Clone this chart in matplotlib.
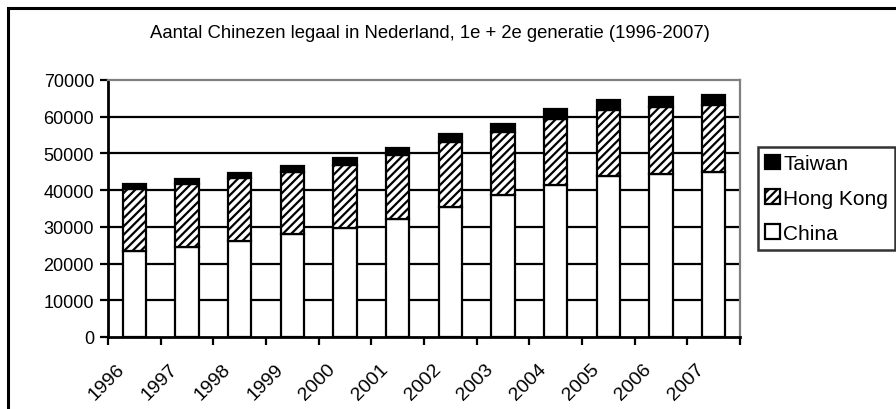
import numpy as np
import matplotlib.pyplot as plt
from matplotlib.patches import Rectangle
from matplotlib.transforms import ScaledTranslation

plt.rcParams['font.family'] = ['Liberation Sans', 'DejaVu Sans']
plt.rcParams['hatch.linewidth'] = 1.6

jaren = ['1996', '1997', '1998', '1999', '2000', '2001',
         '2002', '2003', '2004', '2005', '2006', '2007']
china = [23300, 24500, 26200, 28000, 29600, 32100, 35400, 38600, 41500, 43800, 44500, 45000]
hongkong = [16900, 17100, 17000, 17000, 17300, 17400, 17700, 17200, 17900, 18000, 18100, 18100]
taiwan = [1400, 1500, 1550, 1700, 1900, 1900, 2100, 2300, 2600, 2700, 2700, 2800]

fig = plt.figure(figsize=(8.96, 4.10), dpi=100)
ax = fig.add_axes([108/896, 1-338/410, (740-108)/896, (338-81)/410])

x = np.arange(len(jaren))
b = 0.44
ch = ax.bar(x, china, b, color='white', edgecolor='black', linewidth=1.6, zorder=3)
hk = ax.bar(x, hongkong, b, bottom=china, color='white', edgecolor='black',
            hatch='////', linewidth=1.6, zorder=3)
bot2 = np.array(china) + np.array(hongkong)
tw = ax.bar(x, taiwan, b, bottom=bot2, color='black', edgecolor='black', linewidth=1.6, zorder=3)

ax.set_xlim(-0.5, len(jaren) - 0.5)
ax.set_ylim(0, 70000)
ax.set_yticks(range(0, 70001, 10000))
for y in range(10000, 70000, 10000):
    ax.axhline(y, color='black', linewidth=1.6, zorder=1)

# ticks tussen de categorieen
ax.set_xticks(np.arange(-0.5, len(jaren)), minor=False)
ax.set_xticklabels([])
ax.set_xticks(x, minor=True)
ax.set_xticklabels(jaren, minor=True, rotation=45, ha='right', va='center',
                   rotation_mode='anchor', fontsize=14)
ax.tick_params(axis='x', which='minor', length=0, pad=21)
ax.tick_params(axis='x', which='major', length=6, width=1.6, direction='out')
ax.tick_params(axis='y', length=6, width=1.6, labelsize=13, pad=4)
off = ScaledTranslation(-12/100, 0, fig.dpi_scale_trans)
for lab in ax.get_xticklabels(minor=True):
    lab.set_transform(lab.get_transform() + off)

for s in ['left', 'bottom']:
    ax.spines[s].set_linewidth(2)
    ax.spines[s].set_color('black')
for s in ['top', 'right']:
    ax.spines[s].set_linewidth(1.6)
    ax.spines[s].set_color('#808080')

fig.text(0.48, 1-34/410, 'Aantal Chinezen legaal in Nederland, 1e + 2e generatie (1996-2007)',
         ha='center', va='center', fontsize=13.3)

leg = fig.legend([tw, hk, ch], ['Taiwan', 'Hong Kong', 'China'], loc='upper left',
                 bbox_to_anchor=(758/896, 1-148/410), fontsize=15, frameon=True,
                 fancybox=False, edgecolor='black', handlelength=0.7, handleheight=0.7,
                 handletextpad=0.15, labelspacing=0.75, borderaxespad=0, borderpad=0.35)
leg.get_frame().set_linewidth(1.8)

fig.patches.append(Rectangle((8/896, -0.1), 1.2, 1-9/410+0.1, transform=fig.transFigure,
                             fill=False, edgecolor='black', linewidth=2.2))

fig.savefig('out.png', dpi=100)
